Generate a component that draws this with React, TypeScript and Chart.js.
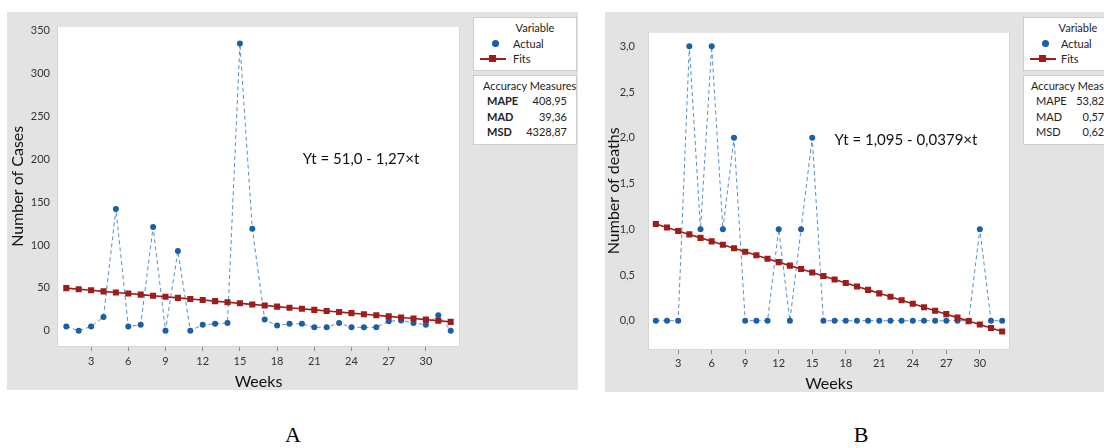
import React, { useEffect, useRef } from "react";
import { Chart, registerables } from "chart.js";

Chart.register(...registerables);

// Week index shared by both trend plots
const weeks = [1, 2, 3, 4, 5, 6, 7, 8, 9, 10, 11, 12, 13, 14, 15, 16, 17, 18, 19, 20, 21, 22, 23, 24, 25, 26, 27, 28, 29, 30, 31, 32];
const weekTicks = [3, 6, 9, 12, 15, 18, 21, 24, 27, 30];

// A: weekly number of cases and its linear trend (Yt = 51,0 - 1,27×t)
const casesActual = [5, 0, 5, 16, 142, 5, 7, 121, 0, 93, 0, 7, 8, 9, 335, 119, 13, 6, 8, 8, 4, 4, 9, 4, 4, 4, 11, 12, 9, 7, 18, 0];
const casesFits = [49.73, 48.46, 47.19, 45.92, 44.65, 43.38, 42.11, 40.84, 39.57, 38.3, 37.03, 35.76, 34.49, 33.22, 31.95, 30.68, 29.41, 28.14, 26.87, 25.6, 24.33, 23.06, 21.79, 20.52, 19.25, 17.98, 16.71, 15.44, 14.17, 12.9, 11.63, 10.36];
const casesTicks = [0, 50, 100, 150, 200, 250, 300, 350];
const casesTickLabels = ["0", "50", "100", "150", "200", "250", "300", "350"];
const casesAccuracy = ["408,95", "39,36", "4328,87"];

// B: weekly number of deaths and its linear trend (Yt = 1,095 - 0,0379×t)
const deathsActual = [0, 0, 0, 3, 1, 3, 1, 2, 0, 0, 0, 1, 0, 1, 2, 0, 0, 0, 0, 0, 0, 0, 0, 0, 0, 0, 0, 0, 0, 1, 0, 0];
const deathsFits = [1.0571, 1.0192, 0.9813, 0.9434, 0.9055, 0.8676, 0.8297, 0.7918, 0.7539, 0.716, 0.6781, 0.6402, 0.6023, 0.5644, 0.5265, 0.4886, 0.4507, 0.4128, 0.3749, 0.337, 0.2991, 0.2612, 0.2233, 0.1854, 0.1475, 0.1096, 0.0717, 0.0338, -0.0041, -0.042, -0.0799, -0.1178];
const deathsTicks = [0, 0.5, 1, 1.5, 2, 2.5, 3];
const deathsTickLabels = ["0,0", "0,5", "1,0", "1,5", "2,0", "2,5", "3,0"];
const deathsAccuracy = ["53,8250", "0,5741", "0,6263"];

const accuracyNames = ["MAPE", "MAD", "MSD"];

const ACTUAL_DOT = "#1b5ea9";
const ACTUAL_LINE = "#5a8fc8";
const FITS = "#9e1c1c";
const PANEL_BG = "#e3e3e3";
const FONT = "Lato, 'Open Sans', sans-serif";

// Paints the white plotting region behind the series
const plotAreaPlugin = {
  id: "plotArea",
  beforeDraw(chart: any) {
    const { ctx, chartArea } = chart;
    if (!chartArea) return;
    ctx.save();
    ctx.fillStyle = "#ffffff";
    ctx.fillRect(chartArea.left, chartArea.top, chartArea.right - chartArea.left, chartArea.bottom - chartArea.top);
    ctx.strokeStyle = "#d6d6d6";
    ctx.lineWidth = 1;
    ctx.strokeRect(chartArea.left + 0.5, chartArea.top + 0.5, chartArea.right - chartArea.left - 1, chartArea.bottom - chartArea.top - 1);
    ctx.restore();
  },
};

type Area = { left: number; right: number; top: number; bottom: number };

type PanelProps = {
  left: number;
  top: number;
  width: number;
  height: number;
  area: Area;
  actual: number[];
  fits: number[];
  xMin: number;
  xMax: number;
  yMin: number;
  yMax: number;
  yTicks: number[];
  yTickLabels: string[];
  yTitle: string;
  yTitlePad: number;
  yLabelPad: number;
  xLabelPad: number;
  equation: string;
  eqX: number;
  eqY: number;
  accuracy: string[];
  boldNames: boolean;
  legendLeft: number;
  variableX: number;
  entryX: number;
  accuracyX: number;
  nameX: number;
};

function Legend(p: PanelProps) {
  const txt: React.CSSProperties = {
    position: "absolute",
    fontFamily: FONT,
    fontSize: 11,
    lineHeight: "14px",
    color: "#222",
    whiteSpace: "nowrap",
  };
  const boxStyle: React.CSSProperties = {
    position: "absolute",
    left: p.legendLeft,
    width: 104,
    background: "#fff",
    border: "1px solid #cdcdcd",
    boxSizing: "border-box",
  };
  const rows = [25, 41, 56];
  return (
    <>
      <div style={{ ...boxStyle, top: 5, height: 54 }}>
        <div style={{ ...txt, left: p.variableX, top: 3, transform: "translateX(-50%)" }}>Variable</div>
        <div style={{ position: "absolute", left: 18, top: 22, width: 7, height: 7, borderRadius: "50%", background: ACTUAL_DOT }} />
        <div style={{ ...txt, left: p.entryX, top: 19 }}>Actual</div>
        <div style={{ position: "absolute", left: 6, top: 40, width: 26, height: 2, background: FITS }} />
        <div style={{ position: "absolute", left: 15, top: 37, width: 7, height: 7, background: FITS }} />
        <div style={{ ...txt, left: p.entryX, top: 34 }}>Fits</div>
      </div>
      <div style={{ ...boxStyle, top: 63, height: 70 }}>
        <div style={{ ...txt, left: p.accuracyX, top: 3 }}>Accuracy Measures</div>
        {accuracyNames.map((name, i) => (
          <React.Fragment key={name}>
            <div style={{ ...txt, left: p.nameX, top: rows[i] - 7, fontWeight: p.boldNames ? 700 : 400 }}>{name}</div>
            <div style={{ ...txt, left: 40, width: 53, top: rows[i] - 7, textAlign: "right" }}>{p.accuracy[i]}</div>
          </React.Fragment>
        ))}
      </div>
    </>
  );
}

function TrendPanel(p: PanelProps) {
  const canvasRef = useRef<HTMLCanvasElement | null>(null);

  useEffect(() => {
    const canvas = canvasRef.current;
    if (!canvas) return;
    const xAxisHeight = p.height - p.area.bottom;
    const yAxisWidth = p.area.left;
    const chart = new Chart(canvas, {
      type: "line",
      data: {
        datasets: [
          {
            label: "Actual",
            data: weeks.map((w, i) => ({ x: w, y: p.actual[i] })),
            borderColor: ACTUAL_LINE,
            borderWidth: 1,
            borderDash: [4, 3],
            pointRadius: 3,
            pointBackgroundColor: ACTUAL_DOT,
            pointBorderColor: ACTUAL_DOT,
            pointBorderWidth: 0,
            tension: 0,
            order: 1,
          },
          {
            label: "Fits",
            data: weeks.map((w, i) => ({ x: w, y: p.fits[i] })),
            borderColor: FITS,
            borderWidth: 1.6,
            pointStyle: "rect",
            pointRadius: 4.3,
            pointBackgroundColor: FITS,
            pointBorderColor: FITS,
            pointBorderWidth: 0,
            tension: 0,
            order: 0,
          },
        ],
      },
      options: {
        animation: false,
        responsive: false,
        maintainAspectRatio: false,
        layout: { padding: { left: 0, top: p.area.top, right: p.width - p.area.right, bottom: 0 } },
        plugins: { legend: { display: false }, tooltip: { enabled: false } },
        scales: {
          x: {
            type: "linear",
            min: p.xMin,
            max: p.xMax,
            afterFit: (s: any) => {
              s.height = xAxisHeight;
            },
            afterBuildTicks: (s: any) => {
              s.ticks = weekTicks.map((v) => ({ value: v }));
            },
            grid: { drawOnChartArea: false, drawTicks: true, tickLength: 4, color: "#8c8c8c" },
            border: { display: false },
            ticks: {
              autoSkip: false,
              maxRotation: 0,
              padding: p.xLabelPad,
              color: "#333",
              font: { family: FONT, size: 11 },
              callback: (v: any) => String(v),
            },
            title: {
              display: true,
              text: "Weeks",
              color: "#111",
              font: { family: FONT, size: 16, lineHeight: 1 },
              padding: { top: 0, bottom: 0 },
            },
          },
          y: {
            type: "linear",
            min: p.yMin,
            max: p.yMax,
            afterFit: (s: any) => {
              s.width = yAxisWidth;
            },
            afterBuildTicks: (s: any) => {
              s.ticks = p.yTicks.map((v) => ({ value: v }));
            },
            grid: { drawOnChartArea: false, drawTicks: false },
            border: { display: false },
            ticks: {
              padding: p.yLabelPad,
              color: "#333",
              font: { family: FONT, size: 11 },
              callback: (v: any) => {
                const idx = p.yTicks.indexOf(Number(v));
                return idx >= 0 ? p.yTickLabels[idx] : "";
              },
            },
            title: {
              display: true,
              text: p.yTitle,
              color: "#111",
              font: { family: FONT, size: 16, lineHeight: 1 },
              padding: { top: p.yTitlePad, bottom: 0 },
            },
          },
        },
      },
      plugins: [plotAreaPlugin],
    } as any);
    return () => chart.destroy();
  }, []);

  return (
    <div
      style={{
        position: "absolute",
        left: p.left,
        top: p.top,
        width: p.width,
        height: p.height,
        background: PANEL_BG,
        overflow: "hidden",
      }}
    >
      <canvas ref={canvasRef} width={p.width} height={p.height} style={{ position: "absolute", left: 0, top: 0, width: p.width, height: p.height }} />
      <div
        style={{
          position: "absolute",
          left: p.eqX,
          top: p.eqY,
          transform: "translate(-50%, -50%)",
          fontFamily: FONT,
          fontSize: 15,
          lineHeight: "18px",
          color: "#111",
          whiteSpace: "nowrap",
        }}
      >
        {p.equation}
      </div>
      <Legend {...p} />
    </div>
  );
}

export default function App() {
  const caption: React.CSSProperties = {
    position: "absolute",
    top: 423,
    fontFamily: "'Liberation Serif', 'DejaVu Serif', serif",
    fontSize: 22,
    lineHeight: "24px",
    color: "#000",
    transform: "translateX(-50%)",
  };
  return (
    <div style={{ position: "absolute", left: 0, top: 0, width: 1104, height: 448, background: "#fff", overflow: "hidden" }}>
      <TrendPanel
        left={7}
        top={12}
        width={571}
        height={378}
        area={{ left: 50, right: 453, top: 5, bottom: 335 }}
        actual={casesActual}
        fits={casesFits}
        xMin={0.25}
        xMax={32.75}
        yMin={-19}
        yMax={356}
        yTicks={casesTicks}
        yTickLabels={casesTickLabels}
        yTitle="Number of Cases"
        yTitlePad={3}
        yLabelPad={7}
        xLabelPad={4}
        equation="Yt = 51,0 - 1,27×t"
        eqX={354}
        eqY={146}
        accuracy={casesAccuracy}
        boldNames={true}
        legendLeft={466}
        variableX={61}
        entryX={39}
        accuracyX={9}
        nameX={13}
      />
      <TrendPanel
        left={605}
        top={12}
        width={499}
        height={380}
        area={{ left: 43, right: 405, top: 5, bottom: 338 }}
        actual={deathsActual}
        fits={deathsFits}
        xMin={0.3}
        xMax={32.7}
        yMin={-0.32}
        yMax={3.16}
        yTicks={deathsTicks}
        yTickLabels={deathsTickLabels}
        yTitle="Number of deaths"
        yTitlePad={1}
        yLabelPad={13}
        xLabelPad={2.5}
        equation="Yt = 1,095 - 0,0379×t"
        eqX={301}
        eqY={127}
        accuracy={deathsAccuracy}
        boldNames={false}
        legendLeft={418}
        variableX={54}
        entryX={37}
        accuracyX={7}
        nameX={12}
      />
      <div style={{ ...caption, left: 293 }}>A</div>
      <div style={{ ...caption, left: 861 }}>B</div>
    </div>
  );
}
